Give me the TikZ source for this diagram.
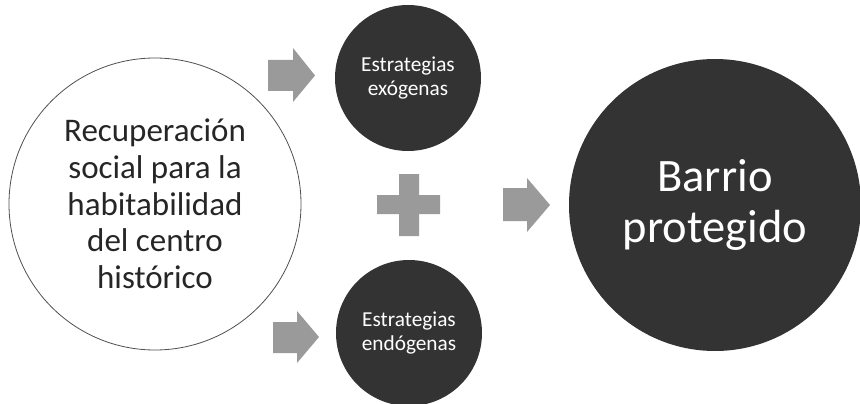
\documentclass[tikz,border=0pt]{standalone}
\usepackage{fontspec}
\setmainfont{Carlito}
\definecolor{darkfill}{HTML}{333333}
\definecolor{arrowgray}{HTML}{9A9A9A}
\definecolor{textgray}{HTML}{262626}
\definecolor{rimgray}{HTML}{505050}
\begin{document}
\begin{tikzpicture}[x=1pt,y=-1pt,
  whitecirc/.style={circle,draw=rimgray,line width=0.8pt,fill=white,inner sep=0pt,align=center,text=textgray},
  darkcirc/.style={circle,fill=darkfill,inner sep=0pt,align=center,text=white},
  graysh/.style={fill=arrowgray,draw=none}]
\useasboundingbox (0,0) rectangle (860,404);
\node[whitecirc,minimum size=292pt,font=\fontsize{33}{36.7}\selectfont] (rec) at (155,204)
  {Recuperación\\social para la\\habitabilidad\\del centro\\histórico};
\node[darkcirc,minimum size=146pt,font=\fontsize{21.3}{23.5}\selectfont] (exo) at (408,78)
  {Estrategias\\exógenas};
\node[darkcirc,minimum size=146pt,font=\fontsize{21.3}{23.5}\selectfont] (endo) at (409,333)
  {Estrategias\\endógenas};
\node[darkcirc,minimum size=292pt,font=\fontsize{46.5}{50.5}\selectfont] (barrio) at (715,205)
  {Barrio\\protegido};
% arrows
\fill[graysh] (268,60) -- (293,60) -- (293,48) -- (315,75.5) -- (293,102) -- (293,91) -- (268,91) -- cycle;
\fill[graysh] (273,322) -- (297,322) -- (297,311) -- (319,337) -- (297,363) -- (297,353) -- (273,353) -- cycle;
\fill[graysh] (503,188) -- (527,188) -- (527,178) -- (550,205) -- (527,232) -- (527,221) -- (503,221) -- cycle;
% plus
\fill[graysh] (399,174) -- (419,174) -- (419,195) -- (440,195) -- (440,214) -- (419,214) -- (419,236) -- (399,236) -- (399,214) -- (377,214) -- (377,195) -- (399,195) -- cycle;
\end{tikzpicture}
\end{document}
